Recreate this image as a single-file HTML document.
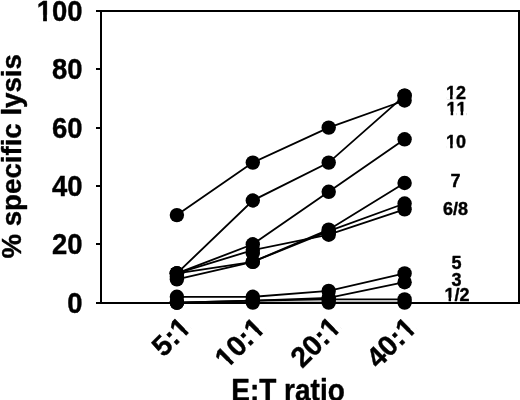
<!DOCTYPE html>
<html><head><meta charset="utf-8"><title>% specific lysis vs E:T ratio</title><style>
html,body{margin:0;padding:0;background:#fff;width:520px;height:400px;overflow:hidden}
svg{display:block}
</style></head><body>
<svg width="520" height="400" viewBox="0 0 520 400">
<rect width="520" height="400" fill="#fff"/>
<defs>
<mask id="m5" x="-0.5" y="-0.5" width="2" height="2"><rect x="-600" y="-600" width="1200" height="1200" fill="#fff"/><g fill="#000"><rect x="-45.89" y="-5.74" width="5.71" height="6.74"/><rect x="-36.33" y="-5.74" width="5.15" height="6.74"/></g></mask>
<mask id="m8" x="-0.5" y="-0.5" width="2" height="2"><rect x="-600" y="-600" width="1200" height="1200" fill="#fff"/><g fill="#000"><rect x="-14.98" y="-5.82" width="5.80" height="6.82"/><rect x="-5.29" y="-5.82" width="5.23" height="6.82"/></g></mask>
<mask id="m9" x="-0.5" y="-0.5" width="2" height="2"><rect x="-600" y="-600" width="1200" height="1200" fill="#fff"/><g fill="#000"><rect x="-56.00" y="-5.82" width="5.80" height="6.82"/><rect x="-46.30" y="-5.82" width="5.23" height="6.82"/><rect x="-14.96" y="-5.82" width="5.80" height="6.82"/><rect x="-5.27" y="-5.82" width="5.23" height="6.82"/></g></mask>
<mask id="m10" x="-0.5" y="-0.5" width="2" height="2"><rect x="-600" y="-600" width="1200" height="1200" fill="#fff"/><g fill="#000"><rect x="-14.96" y="-5.82" width="5.80" height="6.82"/><rect x="-5.27" y="-5.82" width="5.23" height="6.82"/></g></mask>
<mask id="m11" x="-0.5" y="-0.5" width="2" height="2"><rect x="-600" y="-600" width="1200" height="1200" fill="#fff"/><g fill="#000"><rect x="-14.96" y="-5.82" width="5.80" height="6.82"/><rect x="-5.27" y="-5.82" width="5.23" height="6.82"/></g></mask>
<mask id="m12" x="-0.5" y="-0.5" width="2" height="2"><rect x="-600" y="-600" width="1200" height="1200" fill="#fff"/><g fill="#000"><rect x="-9.49" y="-3.69" width="3.67" height="4.69"/><rect x="-3.34" y="-3.69" width="3.31" height="4.69"/></g></mask>
<mask id="m13" x="-0.5" y="-0.5" width="2" height="2"><rect x="-600" y="-600" width="1200" height="1200" fill="#fff"/><g fill="#000"><rect x="-9.49" y="-3.69" width="3.67" height="4.69"/><rect x="-3.34" y="-3.69" width="3.31" height="4.69"/><rect x="0.51" y="-3.69" width="3.67" height="4.69"/><rect x="6.66" y="-3.69" width="3.31" height="4.69"/></g></mask>
<mask id="m14" x="-0.5" y="-0.5" width="2" height="2"><rect x="-600" y="-600" width="1200" height="1200" fill="#fff"/><g fill="#000"><rect x="-9.49" y="-3.69" width="3.67" height="4.69"/><rect x="-3.34" y="-3.69" width="3.31" height="4.69"/></g></mask>
<mask id="m19" x="-0.5" y="-0.5" width="2" height="2"><rect x="-600" y="-600" width="1200" height="1200" fill="#fff"/><g fill="#000"><rect x="-11.99" y="-3.69" width="3.67" height="4.69"/><rect x="-5.84" y="-3.69" width="3.31" height="4.69"/></g></mask>
</defs>
<g fill="#000">
<rect x="96" y="10" width="424" height="2"/>
<rect x="100" y="10" width="2" height="294"/>
<rect x="96" y="302" width="424" height="2"/>
<rect x="518" y="10" width="2" height="294"/>
<rect x="96" y="243" width="5" height="2"/>
<rect x="96" y="185" width="5" height="2"/>
<rect x="96" y="127" width="5" height="2"/>
<rect x="96" y="68" width="5" height="2"/>
</g>
<g fill="none" stroke="#000" stroke-width="1.85">
<polyline points="176.9,215.1 252.8,162.6 328.7,127.6 404.6,100.5"/>
<polyline points="176.9,273.4 252.8,200.5 328.7,162.6 404.6,95.6"/>
<polyline points="176.9,273.4 252.8,244.3 328.7,191.8 404.6,139.3"/>
<polyline points="176.9,273.4 252.8,250.1 328.7,234.7 404.6,209.3"/>
<polyline points="176.9,273.4 252.8,261.8 328.7,229.7 404.6,183.0"/>
<polyline points="176.9,279.3 252.8,261.8 328.7,231.2 404.6,203.5"/>
<polyline points="176.9,296.8 252.8,296.8 328.7,290.9 404.6,273.4"/>
<polyline points="176.9,302.6 252.8,300.6 328.7,297.9 404.6,282.2"/>
<polyline points="176.9,302.6 252.8,300.6 328.7,299.4 404.6,299.4"/>
<polyline points="176.9,302.6 252.8,302.6 328.7,302.6 404.6,302.6"/>
</g>
<g fill="#000">
<circle cx="176.9" cy="215.1" r="7.2"/>
<circle cx="252.8" cy="162.6" r="7.2"/>
<circle cx="328.7" cy="127.6" r="7.2"/>
<circle cx="404.6" cy="100.5" r="7.2"/>
<circle cx="176.9" cy="273.4" r="7.2"/>
<circle cx="252.8" cy="200.5" r="7.2"/>
<circle cx="328.7" cy="162.6" r="7.2"/>
<circle cx="404.6" cy="95.6" r="7.2"/>
<circle cx="176.9" cy="273.4" r="7.2"/>
<circle cx="252.8" cy="244.3" r="7.2"/>
<circle cx="328.7" cy="191.8" r="7.2"/>
<circle cx="404.6" cy="139.3" r="7.2"/>
<circle cx="176.9" cy="273.4" r="7.2"/>
<circle cx="252.8" cy="250.1" r="7.2"/>
<circle cx="328.7" cy="234.7" r="7.2"/>
<circle cx="404.6" cy="209.3" r="7.2"/>
<circle cx="176.9" cy="273.4" r="7.2"/>
<circle cx="252.8" cy="261.8" r="7.2"/>
<circle cx="328.7" cy="229.7" r="7.2"/>
<circle cx="404.6" cy="183.0" r="7.2"/>
<circle cx="176.9" cy="279.3" r="7.2"/>
<circle cx="252.8" cy="261.8" r="7.2"/>
<circle cx="328.7" cy="231.2" r="7.2"/>
<circle cx="404.6" cy="203.5" r="7.2"/>
<circle cx="176.9" cy="296.8" r="7.2"/>
<circle cx="252.8" cy="296.8" r="7.2"/>
<circle cx="328.7" cy="290.9" r="7.2"/>
<circle cx="404.6" cy="273.4" r="7.2"/>
<circle cx="176.9" cy="302.6" r="7.2"/>
<circle cx="252.8" cy="300.6" r="7.2"/>
<circle cx="328.7" cy="297.9" r="7.2"/>
<circle cx="404.6" cy="282.2" r="7.2"/>
<circle cx="176.9" cy="302.6" r="7.2"/>
<circle cx="252.8" cy="300.6" r="7.2"/>
<circle cx="328.7" cy="299.4" r="7.2"/>
<circle cx="404.6" cy="299.4" r="7.2"/>
<circle cx="176.9" cy="302.6" r="7.2"/>
<circle cx="252.8" cy="302.6" r="7.2"/>
<circle cx="328.7" cy="302.6" r="7.2"/>
<circle cx="404.6" cy="302.6" r="7.2"/>
<circle cx="404.6" cy="95.6" r="7.2"/>
<circle cx="176.9" cy="276.4" r="7.2"/>
<circle cx="252.8" cy="253.0" r="7.2"/>
<circle cx="328.7" cy="232.6" r="7.2"/>
</g>
<mask id="gray" maskUnits="userSpaceOnUse" x="0" y="0" width="520" height="400"><rect width="520" height="400" fill="#fff"/></mask>
<g font-family="&quot;Liberation Sans&quot;, sans-serif" font-weight="bold" fill="#000" stroke="#000" stroke-width="0.4" stroke-linejoin="round" mask="url(#gray)">
<g transform="translate(82.5,312.5) scale(0.98,1.07)"><text id="t0" font-size="28" text-anchor="end">0</text></g>
<g transform="translate(82.5,254.2) scale(0.98,1.07)"><text id="t1" font-size="28" text-anchor="end">20</text></g>
<g transform="translate(82.5,195.9) scale(0.98,1.07)"><text id="t2" font-size="28" text-anchor="end">40</text></g>
<g transform="translate(82.5,137.5) scale(0.98,1.07)"><text id="t3" font-size="28" text-anchor="end">60</text></g>
<g transform="translate(82.5,79.2) scale(0.98,1.07)"><text id="t4" font-size="28" text-anchor="end">80</text></g>
<g transform="translate(82.5,20.9) scale(0.98,1.07)" mask="url(#m5)"><text id="t5" font-size="28" text-anchor="end">100</text></g>
<g transform="translate(20.5,156.3) rotate(-90) scale(0.988,1)"><text id="t6" font-size="28" text-anchor="middle">% specific lysis</text></g>
<g transform="translate(288,401.3) scale(1,1.1)"><text id="t7" font-size="28" text-anchor="middle">E:T ratio</text></g>
<g transform="translate(192.5,329.0) rotate(-45)" mask="url(#m8)"><text id="t8" font-size="28.4" text-anchor="end">5:1</text></g>
<g transform="translate(266.7,329.6) rotate(-45)" mask="url(#m9)"><text id="t9" font-size="28.4" text-anchor="end">10:1</text></g>
<g transform="translate(342.5,328.9) rotate(-45)" mask="url(#m10)"><text id="t10" font-size="28.4" text-anchor="end">20:1</text></g>
<g transform="translate(418.1,329.3) rotate(-45)" mask="url(#m11)"><text id="t11" font-size="28.4" text-anchor="end">40:1</text></g>
<g transform="translate(455.9,98.6)" mask="url(#m12)"><text id="t12" font-size="18" text-anchor="middle">12</text></g>
<g transform="translate(456.5,115.2)" mask="url(#m13)"><text id="t13" font-size="18" text-anchor="middle" style="font-kerning:none">11</text></g>
<g transform="translate(456.0,148.0)" mask="url(#m14)"><text id="t14" font-size="18" text-anchor="middle">10</text></g>
<g transform="translate(455.6,187.0)"><text id="t15" font-size="18" text-anchor="middle">7</text></g>
<g transform="translate(455.5,215.2)"><text id="t16" font-size="18" text-anchor="middle">6/8</text></g>
<g transform="translate(456.5,268.9)"><text id="t17" font-size="18" text-anchor="middle">5</text></g>
<g transform="translate(456.5,286.2)"><text id="t18" font-size="18" text-anchor="middle">3</text></g>
<g transform="translate(456.9,301.3)" mask="url(#m19)"><text id="t19" font-size="18" text-anchor="middle">1/2</text></g>
</g>
</svg>
</body></html>
